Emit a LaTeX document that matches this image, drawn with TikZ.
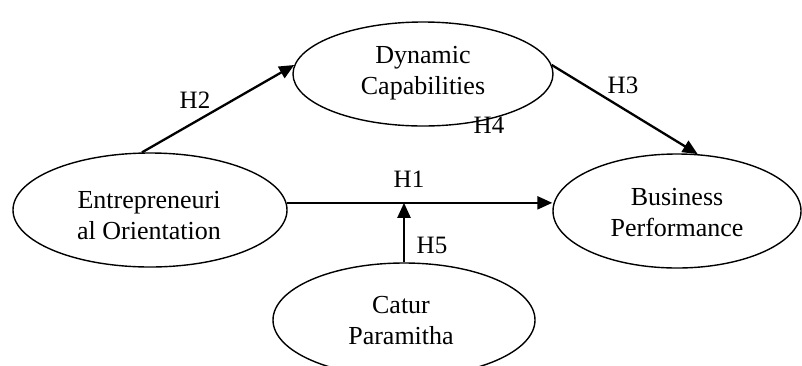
\documentclass[tikz,border=0pt]{standalone}
\usepackage{fontspec}
\setmainfont{Liberation Serif}
\usetikzlibrary{shapes.geometric,arrows.meta}
\begin{document}
\begin{tikzpicture}[x=1pt,y=-1pt,
  construct/.style={draw, ellipse, line width=1.4pt, inner sep=0pt},
  caption/.style={align=center, font=\fontsize{26}{31}\selectfont, inner sep=0pt},
  hyp/.style={font=\fontsize{25}{30}\selectfont, inner sep=0pt},
  link/.style={line width=2.3pt, -{Triangle[length=15pt,width=13pt]}}]
\useasboundingbox (0,0) rectangle (802,365);

% constructs
\node[construct, minimum width=274pt, minimum height=114pt] (eo) at (150,210) {};
\node[caption] (eot) at (149,216) {Entrepreneuri\\al Orientation};
\node[construct, minimum width=260pt, minimum height=104pt] (dc) at (423,74) {};
\node[caption] (dct) at (423,73) {Dynamic\\Capabilities};
\node[construct, minimum width=248pt, minimum height=114pt] (bp) at (677,211) {};
\node[caption] (bpt) at (677,213) {Business\\Performance};
\node[construct, minimum width=262pt, minimum height=114pt] (cp) at (404,320) {};
\node[caption] (cpt) at (401,321) {Catur\\Paramitha};

% hypothesised paths
\draw[link] (eo.98) -- (dc.176);
\draw[link] (dc.4) -- (bp.70);
\draw[link] (eo.3) -- (eo.3 -| bp.west);
\coordinate (j) at (cp.north |- eo.3);
\draw[link] (cp.north) -- (j);

% hypothesis labels
\node[hyp] (h2) at (195,100) {H2};
\node[hyp] (h3) at (623,85) {H3};
\node[hyp] (h4) at (489,125) {H4};
\node[hyp] (h1) at (409,179) {H1};
\node[hyp] (h5) at (432,245) {H5};
\end{tikzpicture}
\end{document}
